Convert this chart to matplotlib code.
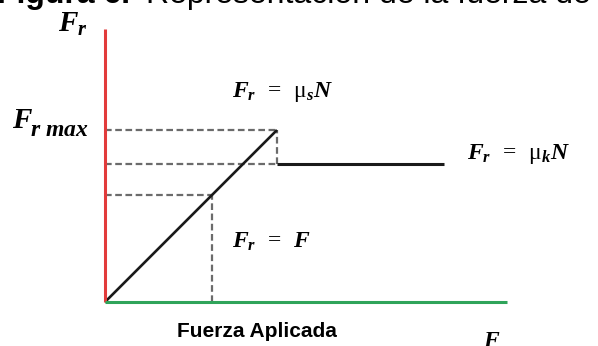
#Diagram of static and kinetic friction vs applied force.

import matplotlib
import matplotlib.pyplot as plt

#Fonts: bold italic serif for the math labels, Arial-like for the rest.
matplotlib.rcParams['mathtext.fontset'] = 'custom'
matplotlib.rcParams['mathtext.it'] = 'Liberation Serif:italic:bold'
matplotlib.rcParams['mathtext.rm'] = 'Liberation Serif'
matplotlib.rcParams['mathtext.bf'] = 'Liberation Serif:bold'

#Values of the schematic (static max friction = 1).
fr_max = 1.0          #maximum static friction
fr_kin = 0.80         #kinetic friction
f_example = 0.62      #an applied force below the maximum
f_end = 1.97          #where the kinetic line stops
x_axis_end = 2.34
y_axis_top = 1.59

F_static = [0, fr_max]
Fr_static = [0, fr_max]
F_kin = [fr_max, f_end]
Fr_kin = [fr_kin, fr_kin]

red = '#e23b3b'
green = '#2fa45a'
grey = '#6b6b6b'

fig = plt.figure(figsize=(5.98, 3.46), dpi=100)
ax = fig.add_axes([0, 0, 1, 1])
ax.set_xlim(-105/172, (598-105)/172)
ax.set_ylim(-44/172, 302/172)
ax.axis('off')

#Dashed guide lines.
dash = dict(color=grey, lw=1.6, ls=(0, (3, 1.6)))
ax.plot([0, fr_max], [fr_max, fr_max], **dash)
ax.plot([0, fr_max], [fr_kin, fr_kin], **dash)
ax.plot([fr_max, fr_max], [fr_kin, fr_max], **dash)
ax.plot([0, f_example], [f_example, f_example], **dash)
ax.plot([f_example, f_example], [0, f_example], **dash)

#Friction curve.
ax.plot(F_static, Fr_static, color='#1a1a1a', lw=1.9, solid_capstyle='butt')
ax.plot(F_kin, Fr_kin, color='#1a1a1a', lw=2.2, solid_capstyle='butt')

#Axes lines.
ax.plot([0, 0], [0, y_axis_top], color=red, lw=2.2, solid_capstyle='butt')
ax.plot([0, x_axis_end], [0, 0], color=green, lw=2.2, solid_capstyle='butt')

#Labels.
ax.text(-0.273, 1.57, r'$F_r$', fontsize=21, ha='left', va='baseline')
ax.text(-0.541, 1.012, r'$F$', fontsize=21, ha='left', va='baseline')
ax.text(-0.436, 0.965, r'$r\ max$', fontsize=17, ha='left', va='baseline')
ax.text(0.738, 1.192, r'$F_r\,\ =\,\ \mathrm{\mu}_s N$', fontsize=17, ha='left', va='baseline')
ax.text(2.105, 0.831, r'$F_r\,\ =\,\ \mathrm{\mu}_k N$', fontsize=17, ha='left', va='baseline')
ax.text(0.738, 0.314, r'$F_r\,\ =\,\ F$', fontsize=17, ha='left', va='baseline')
ax.text(0.884, -0.203, 'Fuerza Aplicada', fontsize=15, fontweight='bold',
        family='Liberation Sans', ha='center', va='baseline')
ax.text(2.198, -0.262, r'$F$', fontsize=17, ha='left', va='baseline', clip_on=False)

#Title, mostly cut at the top of the picture.
ax.text(-3/172 - 105/172, 1.738, 'Figura 6.', fontsize=23, fontweight='bold',
        family='Liberation Sans', ha='left', va='baseline')
ax.text((591-105)/172, 1.738, 'Representación de la fuerza de', fontsize=23,
        family='Liberation Sans', ha='right', va='baseline')

plt.savefig('out.png', dpi=100)
